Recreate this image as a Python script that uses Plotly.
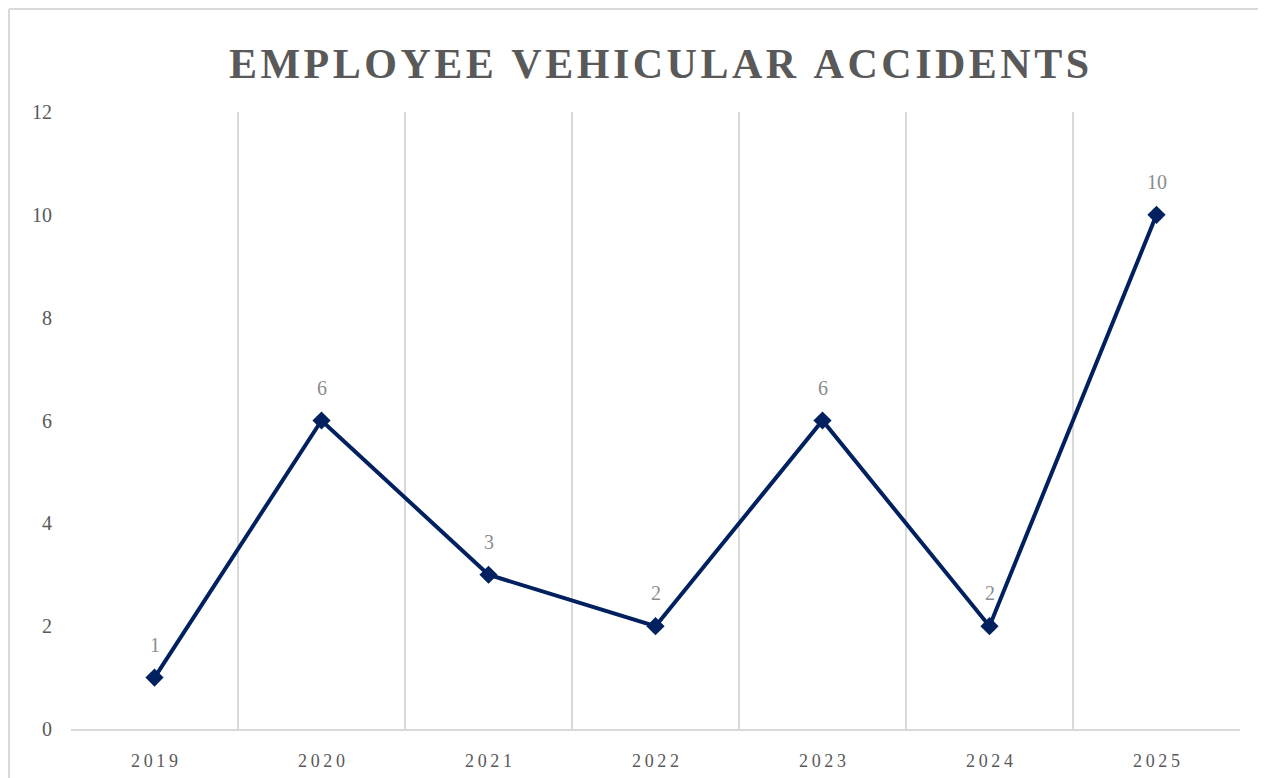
import plotly.graph_objects as go

years = ["2019", "2020", "2021", "2022", "2023", "2024", "2025"]
accidents = [1, 6, 3, 2, 6, 2, 10]
y_ticks = [0, 2, 4, 6, 8, 10, 12]

xs = list(range(len(years)))
W, H = 1266, 778
OFF = 8  # page body margin
L, R, T, B = 71 - OFF, 26 + OFF, 112 - OFF, 49 + OFF
pw, ph = W - L - R, H - T - B

def spaced(s, sp="\u2009"):
    return sp.join(list(s))

fig = go.Figure()
fig.add_trace(go.Scatter(
    x=xs, y=accidents, mode="lines+markers",
    line=dict(color="#002060", width=4),
    marker=dict(symbol="diamond", size=14, color="#002060"),
    hoverinfo="skip", showlegend=False,
))
for x, v in zip(xs, accidents):
    fig.add_annotation(x=x, y=v, text=str(v), showarrow=False, yshift=33,
                       font=dict(family="Liberation Serif", size=20, color="#8c8c8c"))

gray = "#d9d9d9"
bx0, by1 = (9 - 71) / pw, (729 - 9) / ph
fig.update_layout(
    width=W, height=H,
    margin=dict(l=L, r=R, t=T, b=B),
    paper_bgcolor="white", plot_bgcolor="white",
    title=dict(text="<b>" + spaced("EMPLOYEE VEHICULAR ACCIDENTS", "\u200a") + "</b>",
               x=(659 - OFF) / W, xanchor="center", xref="container",
               y=1 - (63 - OFF) / H, yanchor="middle", yref="container",
               font=dict(family="Liberation Serif", size=42, color="#595959")),
    xaxis=dict(range=[-0.5, len(years) - 0.5], tickmode="array", tickvals=xs,
               ticktext=[spaced(y) for y in years], showgrid=False, zeroline=False,
               showline=True, linecolor=gray, linewidth=2, ticks="", ticklabelstandoff=14,
               tickfont=dict(family="Liberation Serif", size=18, color="#595959"),
               minor=dict(tick0=-0.5, dtick=1, showgrid=True, gridcolor=gray, gridwidth=2)),
    yaxis=dict(range=[0, 12], tickvals=y_ticks, showgrid=False, zeroline=False,
               showline=False, ticks="", ticklabelstandoff=18,
               tickfont=dict(family="Liberation Serif", size=20, color="#595959")),
    shapes=[
        dict(type="line", xref="paper", yref="paper", x0=bx0, x1=(1400 - 71) / pw,
             y0=by1, y1=by1, line=dict(color=gray, width=2), layer="below"),
        dict(type="line", xref="paper", yref="paper", x0=bx0, x1=bx0,
             y0=by1, y1=(729 - 900) / ph, line=dict(color=gray, width=2), layer="below"),
    ],
)
fig.write_html("out.html")
